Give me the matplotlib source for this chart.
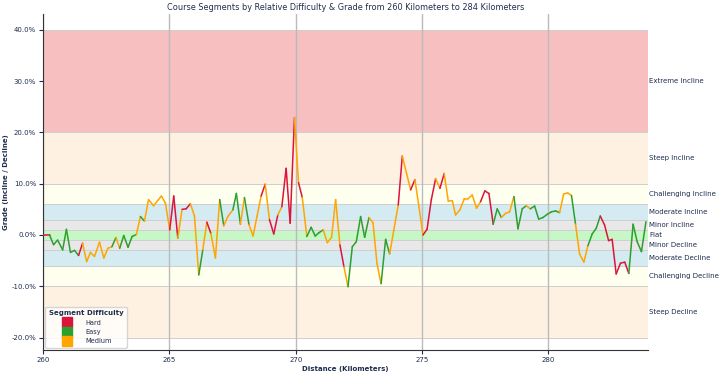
import matplotlib
matplotlib.use("Agg")
import matplotlib.pyplot as plt
from matplotlib.collections import LineCollection
from matplotlib.lines import Line2D
import matplotlib.ticker as mticker
import numpy as np

# distance (km) and grade (%) per point
distance_km = [
    260.00, 260.25, 260.41, 260.57, 260.77, 260.92, 261.08, 261.24, 261.40, 261.56,
    261.72, 261.87, 262.03, 262.23, 262.40, 262.56, 262.72, 262.88, 263.03, 263.19,
    263.36, 263.52, 263.69, 263.85, 264.01, 264.17, 264.37, 264.68, 264.84, 265.01,
    265.17, 265.33, 265.50, 265.66, 265.83, 265.99, 266.16, 266.32, 266.48, 266.64,
    266.82, 266.99, 267.15, 267.31, 267.51, 267.65, 267.81, 267.97, 268.15, 268.31,
    268.47, 268.63, 268.79, 268.96, 269.13, 269.29, 269.45, 269.62, 269.78, 269.95,
    270.11, 270.26, 270.44, 270.61, 270.77, 270.92, 271.09, 271.25, 271.42, 271.58,
    271.75, 271.91, 272.07, 272.24, 272.40, 272.57, 272.73, 272.90, 273.06, 273.22,
    273.38, 273.56, 273.72, 273.88, 274.06, 274.22, 274.39, 274.55, 274.72, 274.88,
    275.04, 275.20, 275.37, 275.54, 275.71, 275.88, 276.04, 276.20, 276.33, 276.50,
    276.68, 276.83, 276.99, 277.16, 277.32, 277.49, 277.65, 277.82, 277.98, 278.14,
    278.31, 278.47, 278.64, 278.80, 278.97, 279.13, 279.29, 279.46, 279.62, 279.79,
    279.95, 280.12, 280.29, 280.45, 280.61, 280.77, 280.92, 281.08, 281.24, 281.41,
    281.57, 281.74, 281.90, 282.06, 282.23, 282.39, 282.53, 282.69, 282.86, 283.03,
    283.19, 283.36, 283.52, 283.69, 283.87,
]
grade_pct = [
    0.0, 0.0, -1.9, -1.0, -2.9, 1.1, -3.4, -3.0, -4.0, -1.6,
    -5.2, -3.4, -4.2, -1.4, -4.5, -2.6, -2.3, -0.5, -2.6, -0.1,
    -2.4, -0.3, 0.1, 3.6, 2.7, 6.9, 5.7, 7.6, 6.2, 1.0,
    7.6, -0.6, 5.0, 5.1, 6.1, 3.7, -7.8, -2.9, 2.5, 0.3,
    -4.5, 6.9, 1.8, 3.6, 4.9, 8.1, 2.1, 7.3, 2.0, -0.2,
    3.7, 7.6, 9.9, 3.0, 0.2, 3.9, 5.5, 13.0, 2.3, 22.9,
    10.2, 7.3, -0.3, 1.5, -0.2, 0.45, 1.0, -1.5, -0.45, 6.9,
    -1.95, -6.2, -10.1, -2.3, -1.3, 3.6, -0.45, 3.4, 2.4, -5.65,
    -9.5, -0.85, -3.7, 0.85, 5.85, 15.4, 12.0, 8.8, 10.8, 5.5,
    0.0, 1.1, 6.9, 11.0, 9.1, 12.0, 6.6, 6.7, 3.9, 4.9,
    7.1, 7.1, 7.8, 5.2, 6.5, 8.6, 8.1, 2.1, 5.1, 3.4,
    4.2, 4.5, 7.5, 1.2, 5.1, 5.7, 5.1, 5.65, 3.1, 3.4,
    4.0, 4.5, 4.7, 4.35, 8.0, 8.2, 7.7, 2.1, -3.7, -5.3,
    -2.1, 0.2, 1.3, 3.7, 1.95, -1.1, -0.85, -7.6, -5.5, -5.3,
    -7.5, 2.1, -1.3, -3.25, 2.6,
]
# difficulty of each segment (point i -> i+1): H = Hard, E = Easy, M = Medium
segment_difficulty = list(
    "HEEEEEEEHM" "MMMMMMEMEE" "EEMEMMMMMH" "HMHHMMEMHM" "MEMMEEMEMM"
    "MHMHHMHHHM" "HMEEEEMMMM" "HMEEEEEMMM" "EEMMHMMHMM" "HHHMHMMMMM"
    "MMMMHHHEEM" "MMEEEMEEEE" "EEEMMMEMMM" "EEEHHHHHHH" "EEEE"
)

difficulty_names = {"H": "Hard", "E": "Easy", "M": "Medium"}
difficulty_colors = {"H": "#dc143c", "E": "#2ca02c", "M": "#ffa500"}

# grade bands
band_names = ["Extreme Incline", "Steep Incline", "Challenging Incline", "Moderate Incline",
              "Minor Incline", "Flat", "Minor Decline", "Moderate Decline",
              "Challenging Decline", "Steep Decline"]
band_low = [20, 10, 6, 3, 1, -1, -3, -6, -10, -20]
band_high = [40, 20, 10, 6, 3, 1, -1, -3, -6, -10]
band_colors = ["lightcoral", "bisque", "lightyellow", "lightblue", "lightgray",
               "lightgreen", "lightgray", "lightblue", "lightyellow", "bisque"]

text_color = "#1f2d4d"

fig = plt.figure(figsize=(7.2, 3.79), dpi=100)
ax = fig.add_axes([0.06, 0.077, 0.84, 0.886])

for name, lo, hi, col in zip(band_names, band_low, band_high, band_colors):
    ax.axhspan(lo, hi, color=col, alpha=0.5, lw=0, zorder=0)
    ax.axhline(hi, color="#cfcfcf", lw=0.7, zorder=0.5)
    ax.axhline(lo, color="#cfcfcf", lw=0.7, zorder=0.5)
    ax.text(1.002, (lo + hi) / 2, name, transform=ax.get_yaxis_transform(),
            va="center", ha="left", fontsize=5.0, color=text_color)

pts = np.column_stack([distance_km, grade_pct])
segs = np.stack([pts[:-1], pts[1:]], axis=1)
lc = LineCollection(segs, colors=[difficulty_colors[d] for d in segment_difficulty],
                    linewidths=1.1, zorder=3, capstyle="round")
ax.add_collection(lc)

ax.set_xlim(distance_km[0], 283.95)
ax.set_ylim(-22.4, 43.1)
ax.set_xticks([260, 265, 270, 275, 280])
ax.set_yticks([-20, -10, 0, 10, 20, 30, 40])
ax.yaxis.set_major_formatter(mticker.FuncFormatter(lambda v, p: f"{v:.1f}%"))
ax.grid(axis="x", color="#bbbbbb", lw=1, zorder=1)
ax.tick_params(labelsize=5, colors=text_color, length=3, pad=2)
for s in ["top", "right"]:
    ax.spines[s].set_visible(False)
for s in ["left", "bottom"]:
    ax.spines[s].set_color("#333333")

ax.set_xlabel("Distance (Kilometers)", fontsize=5, fontweight="bold", color=text_color, labelpad=2)
ax.set_ylabel("Grade (Incline / Decline)", fontsize=5, fontweight="bold", color=text_color, labelpad=2)
ax.set_title("Course Segments by Relative Difficulty & Grade from 260 Kilometers to 284 Kilometers",
             fontsize=5.9, color=text_color, pad=3)

handles = [Line2D([], [], marker="s", linestyle="none", markersize=6.5,
                  color=difficulty_colors[k], label=difficulty_names[k]) for k in ["H", "E", "M"]]
leg = ax.legend(handles=handles, title="Segment Difficulty", loc="lower left",
                fontsize=4.8, title_fontsize=5, framealpha=0.8, borderpad=0.5,
                labelspacing=0.5, handletextpad=1.8, borderaxespad=0.3,
                labelcolor=text_color)
leg.get_title().set_fontweight("bold")
leg.get_title().set_color(text_color)

fig.savefig("out.png", dpi=100)
